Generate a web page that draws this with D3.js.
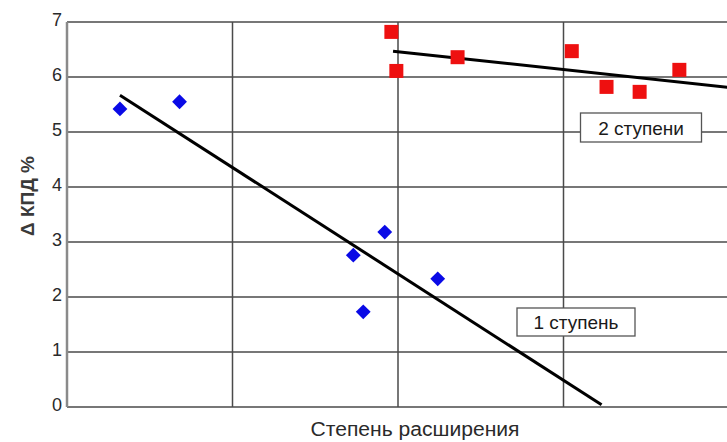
<!DOCTYPE html>
<html>
<head>
<meta charset="utf-8">
<script src="https://cdn.jsdelivr.net/npm/d3@7"></script>
<style>
  html, body { margin: 0; padding: 0; background: #fff; }
  svg { display: block; font-family: "Liberation Sans", Arial, sans-serif; }
</style>
</head>
<body>
<svg id="chart" width="727" height="442"></svg>
<script>
// Expansion ratio (x, relative units) and efficiency gain Δ КПД, %
const stage1X = [0.32, 0.68, 1.73, 1.92, 1.79, 2.24];
const stage1Y = [5.42, 5.55, 2.76, 3.18, 1.73, 2.33];
const stage2X = [1.96, 1.99, 2.36, 3.05, 3.26, 3.46, 3.70];
const stage2Y = [6.82, 6.11, 6.36, 6.47, 5.82, 5.73, 6.13];

// Trend lines (start / end points)
const trend1X = [0.32, 3.23];
const trend1Y = [5.67, 0.04];
const trend2X = [1.97, 4.0];
const trend2Y = [6.47, 5.81];

const yTicks = [0, 1, 2, 3, 4, 5, 6, 7];
const xGrid = [0, 1, 2, 3, 4];
const yTitle = "Δ КПД %";
const xTitle = "Степень расширения";
const label1 = "1 ступень";
const label2 = "2 ступени";

const svg = d3.select("#chart");
const m = { left: 67, right: 727 + 2, top: 22, bottom: 407 };

const x = d3.scaleLinear().domain([0, 4]).range([m.left, m.right]);
const y = d3.scaleLinear().domain([0, 7]).range([m.bottom, m.top]);

const gridColor = "#4a4a4a";

// Horizontal grid lines
svg.append("g")
  .selectAll("line")
  .data(yTicks)
  .join("line")
  .attr("x1", x(0)).attr("x2", x(4))
  .attr("y1", d => y(d)).attr("y2", d => y(d))
  .attr("stroke", gridColor)
  .attr("stroke-width", 1.6);

// Vertical grid lines
svg.append("g")
  .selectAll("line")
  .data(xGrid)
  .join("line")
  .attr("x1", d => x(d)).attr("x2", d => x(d))
  .attr("y1", y(7)).attr("y2", y(0))
  .attr("stroke", d => d === 0 ? "#8a8a8a" : gridColor)
  .attr("stroke-width", d => d === 0 ? 2.5 : 1.5);

// Y axis tick labels
const yAxis = d3.axisLeft(y).tickValues(yTicks).tickFormat(d3.format("d"))
  .tickSize(0).tickPadding(5);
const gy = svg.append("g").attr("transform", `translate(${m.left},-2)`).call(yAxis);
gy.select(".domain").remove();
gy.selectAll("text")
  .attr("font-size", 18)
  .attr("fill", "#2a2a2a")
  .attr("font-family", "'Liberation Sans', Arial, sans-serif");

// Axis titles
svg.append("text")
  .attr("transform", `translate(34,196) rotate(-90)`)
  .attr("text-anchor", "middle")
  .attr("font-size", 19)
  .attr("font-weight", "bold")
  .attr("fill", "#3a3a3a")
  .text(yTitle);

svg.append("text")
  .attr("x", 415).attr("y", 436)
  .attr("text-anchor", "middle")
  .attr("font-size", 20)
  .attr("fill", "#2a2a2a")
  .attr("textLength", 209)
  .attr("lengthAdjust", "spacingAndGlyphs")
  .text(xTitle);

// Trend lines
const line = d3.line().x(d => x(d[0])).y(d => y(d[1]));
svg.append("path")
  .datum(d3.zip(trend1X, trend1Y))
  .attr("d", line)
  .attr("fill", "none")
  .attr("stroke", "#000")
  .attr("stroke-width", 3);
svg.append("path")
  .datum(d3.zip(trend2X, trend2Y))
  .attr("d", line)
  .attr("fill", "none")
  .attr("stroke", "#000")
  .attr("stroke-width", 3);

// Stage 1 points: blue diamonds
svg.append("g")
  .selectAll("path")
  .data(d3.zip(stage1X, stage1Y))
  .join("path")
  .attr("d", d3.symbol().type(d3.symbolDiamond2).size(140))
  .attr("transform", d => `translate(${x(d[0])},${y(d[1])})`)
  .attr("fill", "#0a0ae6");

// Stage 2 points: red squares
svg.append("g")
  .selectAll("rect")
  .data(d3.zip(stage2X, stage2Y))
  .join("rect")
  .attr("x", d => x(d[0]) - 7)
  .attr("y", d => y(d[1]) - 7)
  .attr("width", 14).attr("height", 14)
  .attr("fill", "#ee1010");

// Series labels in boxes
function boxLabel(cx, cy, w, h, text) {
  const g = svg.append("g");
  g.append("rect")
    .attr("x", cx - w / 2).attr("y", cy - h / 2)
    .attr("width", w).attr("height", h)
    .attr("fill", "#fff")
    .attr("stroke", "#555")
    .attr("stroke-width", 1.3);
  g.append("text")
    .attr("x", cx).attr("y", cy + 7)
    .attr("text-anchor", "middle")
    .attr("font-size", 19)
    .attr("fill", "#1a1a1a")
    .text(text);
}
boxLabel(576, 322, 118, 28, label1);
boxLabel(641, 127.5, 121, 29, label2);
</script>
</body>
</html>
